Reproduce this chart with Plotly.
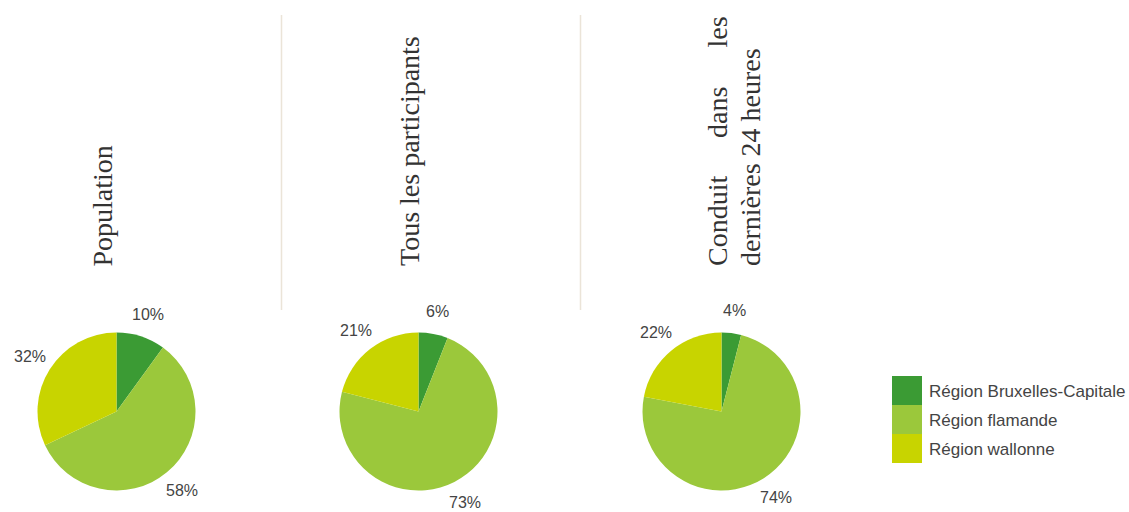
import math
import plotly.graph_objects as go

# Data
regions = ["Région Bruxelles-Capitale", "Région flamande", "Région wallonne"]
colors = ["#3b9b34", "#9bc83b", "#c8d400"]

population = [10, 58, 32]
tous_participants = [6, 73, 21]
conduit_24h = [4, 74, 22]

series = [population, tous_participants, conduit_24h]

W, H = 1129, 512


def px_x(x):
    return x / W


def px_y(y):
    return 1 - y / H


# Pie placement (pixel centres, radius) and distance of percentage labels
centres_x = [116.5, 418.5, 721.5]
centre_y = 411.5
radius = 79
label_dist = 102

fig = go.Figure()
annotations = []

for vals, cx in zip(series, centres_x):
    fig.add_trace(go.Pie(
        labels=regions,
        values=vals,
        sort=False,
        direction="clockwise",
        rotation=0,
        marker=dict(colors=colors, line=dict(width=0)),
        textinfo="none",
        domain=dict(x=[px_x(cx - radius), px_x(cx + radius)],
                    y=[px_y(centre_y + radius), px_y(centre_y - radius)]),
        showlegend=False,
        hoverinfo="label+percent",
    ))
    # percentage labels on each slice's mid-angle ray, outside the pie
    total = sum(vals)
    cum = 0
    for v in vals:
        mid = (cum + v / 2) / total * 2 * math.pi
        cum += v
        lx = cx + label_dist * math.sin(mid)
        ly = centre_y - label_dist * math.cos(mid)
        annotations.append(dict(
            text=f"{v}%", x=px_x(lx), y=px_y(ly), xref="paper", yref="paper",
            showarrow=False, xanchor="center", yanchor="middle",
            font=dict(family="Liberation Sans, Arial, sans-serif", size=16, color="#444444"),
        ))

title_font = dict(family="Liberation Serif, Times New Roman, serif", size=28, color="#333333")


def vtitle(text, x, y, yanchor):
    annotations.append(dict(
        text=text, x=px_x(x), y=px_y(y), xref="paper", yref="paper",
        textangle=-90, showarrow=False, xanchor="center", yanchor=yanchor,
        font=title_font,
    ))


vtitle("Population", 102, 268, "bottom")
vtitle("Tous les participants", 409, 268, "bottom")
# justified first line of the third heading
vtitle("Conduit", 717, 268, "bottom")
vtitle("dans", 717, 113, "middle")
vtitle("les", 717, 15, "top")
vtitle("dernières 24 heures", 750, 268, "bottom")

# Separator lines between headings
shapes = []
for sx in [281.5, 580.5]:
    shapes.append(dict(type="line", xref="paper", yref="paper",
                       x0=px_x(sx), x1=px_x(sx), y0=px_y(15), y1=px_y(310),
                       line=dict(color="#ebe4d8", width=1.5)))

# Legend swatches and labels
leg_x0, leg_x1 = 892, 922
leg_top, leg_h = 376, 29
for i, (name, col) in enumerate(zip(regions, colors)):
    y0 = leg_top + i * leg_h
    shapes.append(dict(type="rect", xref="paper", yref="paper",
                       x0=px_x(leg_x0), x1=px_x(leg_x1),
                       y0=px_y(y0 + leg_h), y1=px_y(y0),
                       fillcolor=col, line=dict(width=0)))
    annotations.append(dict(
        text=name, x=px_x(927), y=px_y(y0 + leg_h / 2 + 1), xref="paper", yref="paper",
        showarrow=False, xanchor="left", yanchor="middle",
        font=dict(family="Liberation Sans, Arial, sans-serif", size=17, color="#444444"),
    ))

fig.update_layout(
    width=W, height=H,
    margin=dict(l=0, r=0, t=0, b=0),
    paper_bgcolor="white",
    plot_bgcolor="white",
    annotations=annotations,
    shapes=shapes,
)

fig.write_html("out.html")
